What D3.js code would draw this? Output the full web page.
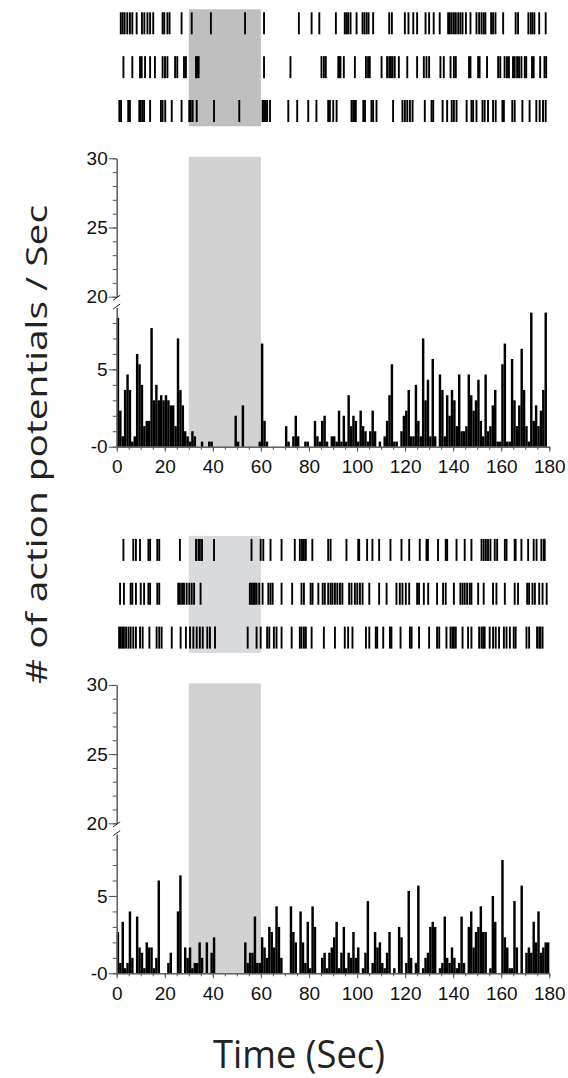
<!DOCTYPE html>
<html>
<head>
<meta charset="utf-8">
<script src="https://cdn.jsdelivr.net/npm/d3@7"></script>
<style>
  body { margin: 0; background: #fff; }
  svg { display: block; }
  .tick text { font-family: "Liberation Sans", Arial, sans-serif; font-size: 19px; fill: #111; }
</style>
</head>
<body>
<svg id="chart" width="568" height="1078"></svg>
<script>
// ---- data ----
const xTicks = [0, 20, 40, 60, 80, 100, 120, 140, 160, 180];
const yLowTicks = [0, 5];
const yHighTicks = [20, 25, 30];
const stimWindow = [30, 60];

// firing rate per 1 s bin (spikes / sec), panel A (top)
const rateA = [
  8.33, 2.33, 0.67, 3.67, 4.67, 3.67, 0.33, 0.67, 6.0, 5.33,
  4.0, 1.33, 1.67, 1.67, 7.67, 3.0, 4.0, 3.0, 3.33, 3.0,
  3.33, 3.0, 2.67, 2.67, 1.33, 7.0, 3.67, 2.67, 1.0, 0.67,
  0.33, 1.0, 0.67, 0, 0, 0.33, 0, 0, 0.33, 0.33,
  0, 0, 0, 0, 0, 0, 0, 0, 0, 2.0,
  0.33, 0, 2.67, 0, 0, 0, 0, 0, 0, 0.33,
  6.67, 1.67, 0.33, 0, 0, 0, 0, 0, 0, 0,
  1.33, 0.33, 0, 0.67, 2.0, 0.67, 0, 0, 0.33, 0.33,
  0, 0, 1.67, 0.67, 0.33, 1.67, 2.0, 0.33, 0, 0.67,
  0.67, 0.33, 2.33, 0.33, 2.0, 0.33, 3.33, 1.33, 2.0, 1.67,
  0.33, 2.33, 1.33, 1.0, 0.33, 1.0, 2.33, 1.0, 0, 0.33,
  0, 0.67, 1.67, 3.33, 5.33, 0.33, 0.33, 0, 1.0, 2.0,
  2.33, 3.67, 0.67, 0.67, 4.0, 1.67, 0.67, 7.0, 3.0, 4.33,
  0.67, 5.67, 0.67, 0, 4.67, 3.67, 0.67, 3.33, 2.0, 3.67,
  3.0, 1.33, 4.67, 1.0, 1.0, 1.33, 4.67, 3.33, 2.33, 3.0,
  4.33, 1.67, 0.67, 4.67, 1.0, 1.33, 2.67, 3.67, 0.33, 0.33,
  5.33, 6.67, 0.33, 0.33, 5.67, 3.0, 1.33, 2.67, 6.33, 3.67,
  1.33, 0.33, 8.67, 1.67, 2.67, 1.33, 2.33, 3.67, 8.67, 0
];

// firing rate per 1 s bin, panel B (bottom)
const rateB = [
  2.67, 0.67, 3.33, 0.33, 0.67, 4.0, 1.0, 0, 3.67, 1.67,
  1.33, 0.33, 2.0, 1.67, 1.67, 0.33, 1.0, 6.0, 0, 0,
  0, 0.67, 1.33, 0, 0, 4.0, 6.33, 0, 1.67, 1.0,
  1.67, 0.33, 0.67, 0.67, 2.0, 1.0, 0, 2.0, 0, 1.33,
  2.33, 0, 0, 0, 0, 0, 0, 0, 0, 0,
  0, 0, 0, 2.0, 0.67, 1.33, 1.33, 3.67, 0.67, 0.67,
  2.33, 1.67, 1.0, 3.0, 2.67, 1.67, 4.33, 3.0, 1.0, 0,
  0, 0, 4.33, 2.67, 2.0, 0, 4.0, 2.0, 0.67, 3.33,
  0.33, 4.33, 3.0, 0, 0, 1.0, 1.33, 0.33, 1.33, 1.67,
  2.33, 3.33, 0.33, 1.33, 3.0, 0.33, 1.33, 1.0, 2.67, 1.0,
  1.67, 0, 0.33, 1.33, 4.67, 0, 0.67, 2.67, 1.67, 2.0,
  0.67, 0.33, 1.33, 2.67, 0, 0.33, 0, 3.0, 2.33, 0,
  0.67, 5.33, 1.0, 0, 0.67, 5.67, 0, 0.33, 1.0, 1.33,
  3.0, 3.33, 3.0, 0, 0.33, 0.67, 3.67, 1.0, 0.67, 1.67,
  1.0, 0.33, 0.67, 3.67, 0.67, 0, 3.0, 4.0, 1.67, 2.67,
  3.0, 4.33, 2.67, 2.67, 0, 0.33, 5.0, 3.33, 0, 0,
  7.33, 2.33, 1.67, 0.33, 0.33, 4.67, 1.67, 0, 5.67, 0,
  1.33, 1.67, 1.33, 3.33, 2.0, 4.0, 1.33, 1.67, 2.0, 2.0
];

// spike times (s), three trials per panel
const spikesA1 = [1.7, 2.5, 3.3, 4.4, 5.5, 6.5, 8.3, 10.5, 11.5, 12.8, 13.9, 15.2, 19.1, 19.8, 21.1, 22.0,
  27.0, 31.2, 39.2, 53.4, 61.3, 75.8, 81.1, 84.3, 91.2, 94.9, 95.6, 96.3, 97.3, 99.8, 102.3, 103.1,
  104.0, 104.8, 106.7, 113.4, 114.5, 119.9, 121.4, 123.4, 125.0, 128.5, 130.0, 131.9, 134.4, 137.9,
  138.6, 139.4, 140.3, 141.1, 142.1, 143.0, 143.9, 145.3, 147.2, 149.7, 150.8, 151.8, 152.7, 153.4,
  155.8, 156.6, 157.6, 160.8, 166.0, 167.0, 171.3, 172.3, 173.0, 173.8, 175.8, 178.5];
const spikesA2 = [2.8, 6.5, 9.7, 10.4, 11.8, 13.9, 15.9, 19.1, 20.1, 21.1, 24.3, 25.2, 28.0, 28.8, 33.0,
  33.5, 34.1, 61.3, 72.3, 85.2, 86.2, 87.0, 92.2, 92.6, 93.1, 94.5, 99.1, 103.7, 104.6, 105.3, 110.2,
  112.5, 113.4, 114.1, 114.8, 115.7, 117.4, 120.9, 125.0, 127.8, 128.9, 130.0, 134.7, 136.1, 138.9,
  140.3, 141.1, 146.6, 147.2, 150.4, 151.0, 154.1, 158.7, 159.6, 161.4, 162.4, 163.2, 164.9, 165.6,
  166.6, 167.4, 168.4, 169.8, 170.4, 172.8, 173.5, 176.2, 178.0, 178.7];
const spikesA3 = [1.1, 1.8, 4.8, 5.5, 9.4, 10.0, 10.7, 11.4, 13.9, 18.4, 19.1, 20.2, 22.9, 27.0, 30.2,
  30.8, 31.6, 33.3, 40.5, 51.0, 60.7, 61.3, 62.0, 62.6, 63.8, 71.4, 75.1, 79.7, 83.1, 88.0, 88.7,
  90.1, 91.5, 97.7, 98.4, 99.1, 99.5, 102.6, 103.3, 106.0, 106.7, 108.1, 115.0, 118.9, 119.9, 120.9,
  122.0, 123.1, 128.2, 131.0, 131.7, 135.6, 137.5, 139.4, 140.3, 141.4, 145.6, 147.6, 148.3, 149.7,
  152.2, 153.1, 154.5, 156.6, 157.7, 160.5, 161.1, 164.6, 165.6, 168.8, 171.8, 174.6, 176.0, 177.4, 178.5];
const spikesB1 = [2.8, 6.9, 8.0, 9.7, 13.2, 13.9, 16.9, 17.7, 26.3, 33.0, 34.0, 34.6, 35.5, 40.5, 56.1,
  59.9, 61.0, 64.0, 68.6, 74.1, 76.2, 77.1, 77.9, 78.7, 81.4, 88.0, 89.0, 95.6, 100.5, 100.9, 104.2,
  106.4, 109.2, 113.9, 118.5, 121.7, 126.1, 128.9, 129.5, 133.7, 136.9, 137.5, 141.4, 144.8, 147.6,
  151.8, 152.7, 153.6, 154.5, 155.5, 157.3, 158.3, 161.5, 162.2, 165.6, 166.0, 168.4, 171.2, 173.5,
  174.7, 176.7, 177.7, 178.1];
const spikesB2 = [1.4, 3.0, 5.8, 6.5, 8.0, 10.0, 11.4, 13.2, 13.9, 16.9, 17.7, 25.6, 26.3, 27.2, 28.0,
  29.1, 30.2, 31.2, 32.2, 34.9, 55.4, 56.1, 56.8, 57.5, 58.2, 59.3, 60.7, 63.1, 64.0, 64.9, 68.6,
  73.0, 76.9, 77.9, 80.7, 81.5, 83.9, 85.7, 86.6, 88.0, 89.0, 89.8, 90.8, 91.8, 92.9, 93.9, 96.7,
  97.7, 99.1, 100.1, 101.2, 102.3, 105.1, 109.2, 112.3, 116.4, 117.8, 118.9, 120.3, 121.7, 125.0,
  125.8, 127.8, 129.6, 133.3, 135.8, 136.9, 140.3, 143.0, 143.9, 144.8, 145.8, 146.9, 147.6, 150.4,
  152.7, 156.6, 158.0, 161.5, 165.6, 167.0, 170.8, 171.6, 173.0, 174.0, 175.8, 177.2, 178.9];
const spikesB3 = [1.0, 1.7, 2.4, 3.0, 3.9, 4.9, 5.8, 6.9, 8.0, 9.7, 10.8, 13.6, 16.6, 17.7, 18.7, 22.9,
  26.6, 28.8, 30.5, 31.9, 33.3, 34.6, 35.8, 37.7, 38.8, 40.9, 54.5, 58.2, 59.9, 62.6, 63.5, 65.4,
  66.5, 68.6, 72.8, 76.2, 76.9, 77.9, 78.7, 81.1, 86.2, 90.8, 94.9, 96.3, 98.1, 103.7, 105.1, 107.8,
  108.4, 110.9, 113.7, 114.3, 118.1, 122.0, 122.7, 125.8, 130.0, 133.3, 134.2, 137.2, 138.9, 139.7,
  140.3, 141.1, 143.9, 146.2, 147.6, 150.8, 151.8, 152.5, 153.1, 155.2, 156.6, 157.7, 159.1, 161.1,
  162.2, 163.6, 165.2, 166.0, 170.5, 171.6, 174.9, 175.8, 176.3, 177.2];

// ---- layout ----
const svg = d3.select("#chart");
const x = d3.scaleLinear().domain([0, 180]).range([116.7, 549.3]);

const panels = [
  { dy: 0, rate: rateA, spikes: [spikesA1, spikesA2, spikesA3], rasterShade: "#bfbfbf" },
  { dy: 526.6, rate: rateB, spikes: [spikesB1, spikesB2, spikesB3], rasterShade: "#d9dadd" }
];

panels.forEach(drawPanel);

function drawPanel(p) {
  const g = svg.append("g").attr("transform", `translate(0,${p.dy})`);

  // raster
  const rowY = d3.scalePoint().domain([0, 1, 2]).range([23.3, 111]);
  g.append("rect")
    .attr("x", x(stimWindow[0])).attr("y", 9.3)
    .attr("width", x(stimWindow[1]) - x(stimWindow[0])).attr("height", 117)
    .attr("fill", p.rasterShade);

  p.spikes.forEach((times, i) => {
    g.append("g").selectAll("line")
      .data(times).enter().append("line")
      .attr("x1", d => x(d)).attr("x2", d => x(d))
      .attr("y1", rowY(i) - 11).attr("y2", rowY(i) + 11)
      .attr("stroke", "#000").attr("stroke-width", 1.9);
  });

  // histogram with broken y axis
  const yLow = d3.scaleLinear().domain([0, 9]).range([446.7, 307.5]);
  const yHigh = d3.scaleLinear().domain([20, 30]).range([296.7, 158.3]);

  g.append("rect")
    .attr("x", x(stimWindow[0])).attr("y", yHigh(30) - 1.5)
    .attr("width", x(stimWindow[1]) - x(stimWindow[0])).attr("height", yLow(0) - yHigh(30) + 1.5)
    .attr("fill", "#d2d2d2");

  g.append("g").selectAll("rect")
    .data(p.rate).enter().append("rect")
    .attr("x", (d, i) => x(i))
    .attr("width", x(1) - x(0) + 0.05)
    .attr("y", d => yLow(d))
    .attr("height", d => yLow(0) - yLow(d))
    .attr("fill", "#000");

  g.append("g").attr("transform", `translate(0,${yLow(0)})`)
    .call(d3.axisBottom(x).tickValues(xTicks).tickSize(5).tickSizeOuter(0).tickPadding(8));
  g.append("g").attr("transform", `translate(0,${yLow(0)})`)
    .call(d3.axisBottom(x).tickValues(d3.range(0, 181, 5)).tickSize(3).tickSizeOuter(0).tickFormat(""));

  const axL = x(0);
  g.append("g").attr("transform", `translate(${axL},0)`)
    .call(d3.axisLeft(yLow).tickValues(yLowTicks).tickSize(8).tickSizeOuter(0).tickPadding(1)
      .tickFormat(d => d === 0 ? "-0" : d));
  g.append("g").attr("transform", `translate(${axL},0)`)
    .call(d3.axisLeft(yLow).tickValues(d3.range(0, 9)).tickSize(4).tickSizeOuter(0).tickFormat(""));
  g.append("g").attr("transform", `translate(${axL},0)`)
    .call(d3.axisLeft(yHigh).tickValues(yHighTicks).tickSize(8).tickSizeOuter(0).tickPadding(1));
  g.append("g").attr("transform", `translate(${axL},0)`)
    .call(d3.axisLeft(yHigh).tickValues(d3.range(20, 31)).tickSize(4).tickSizeOuter(0).tickFormat(""));

  g.selectAll(".domain, .tick line").attr("stroke", "#555").attr("stroke-width", 1);

  // break marks
  [yHigh(20) + 1, yLow(9) - 1].forEach(yy => {
    g.append("line")
      .attr("x1", axL - 3.5).attr("x2", axL + 3.5)
      .attr("y1", yy + 2.5).attr("y2", yy - 2.5)
      .attr("stroke", "#222").attr("stroke-width", 1);
  });
}

// axis titles
svg.append("text")
  .attr("transform", "translate(47,444.5) rotate(-90)")
  .attr("text-anchor", "middle")
  .attr("font-family", "'Open Sans', 'Noto Sans', sans-serif")
  .attr("font-size", 30)
  .attr("fill", "#222")
  .attr("textLength", 479).attr("lengthAdjust", "spacingAndGlyphs")
  .text("# of action potentials / Sec");

svg.append("text")
  .attr("x", 299).attr("y", 1068)
  .attr("text-anchor", "middle")
  .attr("font-family", "'Open Sans', 'Noto Sans', sans-serif")
  .attr("font-size", 39)
  .attr("fill", "#222")
  .attr("textLength", 172).attr("lengthAdjust", "spacingAndGlyphs")
  .text("Time (Sec)");
</script>
</body>
</html>
